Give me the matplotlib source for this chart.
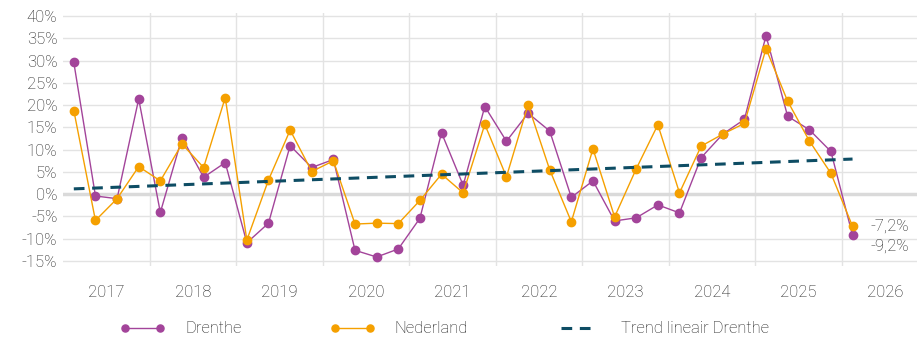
#!/usr/bin/env python3
""" quarterly change, Drenthe vs Nederland """

import numpy as np
import matplotlib
matplotlib.use("Agg")
import matplotlib.pyplot as plt
from matplotlib.ticker import FixedLocator, NullFormatter

plt.rcParams['font.family'] = ['Roboto', 'DejaVu Sans']

# quarters 2017Q1 .. 2026Q1
years = [2017] * 4 + [2018] * 4 + [2019] * 4 + [2020] * 4 + [2021] * 4 + \
        [2022] * 4 + [2023] * 4 + [2024] * 4 + [2025] * 4 + [2026]
quarters = [1, 2, 3, 4] * 9 + [1]

drenthe = [29.6, -0.4, -1.0, 21.4, -4.1, 12.7, 3.8, 7.1,
           -10.9, -6.5, 10.9, 6.0, 7.8, -12.6, -14.1, -12.3,
           -5.4, 13.8, 2.0, 19.7, 11.9, 18.2, 14.2, -0.7,
           3.0, -6.0, -5.3, -2.4, -4.2, 8.2, 13.5, 16.8,
           35.6, 17.5, 14.5, 9.6, -9.2]
nederland = [18.8, -5.9, -1.0, 6.2, 3.0, 11.3, 6.0, 21.7,
             -10.3, 3.2, 14.4, 5.1, 7.5, -6.7, -6.5, -6.6,
             -1.4, 4.5, 0.3, 15.7, 3.9, 20.1, 5.5, -6.2,
             10.2, -5.1, 5.7, 15.6, 0.3, 10.8, 13.5, 15.9,
             32.7, 20.9, 12.0, 4.7, -7.2]
trend_start, trend_end = 1.2, 7.9

y_ticks = list(range(-15, 45, 5))
year_labels = [str(y) for y in range(2017, 2027)]

purple = '#a3449a'
orange = '#f5a000'
teal = '#0e4d64'
text_col = '#1e1e1e'

x = np.array(years) + (np.array(quarters) - 0.5) / 4

fig = plt.figure(figsize=(9.17, 3.37), dpi=100)
ax = fig.add_axes([0.0687, 0.211, 0.9313, 0.751])

ax.plot(x, drenthe, color=purple, lw=1.0, marker='o', ms=6,
        label='Drenthe', zorder=3)
ax.plot(x, nederland, color=orange, lw=1.0, marker='o', ms=6,
        label='Nederland', zorder=4)
ax.plot([x[0], x[-1]], [trend_start, trend_end], color=teal, lw=2.2,
        ls=(0, (3.5, 2.5)), label='Trend lineair Drenthe', zorder=5)

ax.axhline(0, color='#dadada', lw=2.5, zorder=1)

ax.set_xlim(2017.0, 2026.87)
ax.set_ylim(-16.1, 40.75)

ax.set_yticks(y_ticks)
ax.set_yticklabels([f'{t}%' for t in y_ticks])
ax.xaxis.set_major_locator(FixedLocator(range(2018, 2027)))
ax.xaxis.set_major_formatter(NullFormatter())
ax.set_xticks([y + 0.5 for y in range(2017, 2027)], minor=True)
ax.set_xticklabels(year_labels, minor=True)

ax.grid(True, which='major', color='#e3e3e3', lw=1.0, zorder=0)
ax.set_axisbelow(True)
ax.tick_params(axis='both', which='both', length=0, labelsize=12,
               labelcolor=text_col)
ax.tick_params(axis='y', pad=4)
ax.tick_params(axis='x', which='minor', pad=14)
for lab in ax.get_yticklabels() + ax.get_xticklabels(minor=True):
    lab.set_fontweight('light')

for s in ax.spines.values():
    s.set_visible(False)

ax.annotate('-7,2%', (x[-1], nederland[-1]), xytext=(18, 0),
            textcoords='offset pixels', va='center', ha='left',
            fontsize=12, color=text_col, fontweight='light')
ax.annotate('-9,2%', (x[-1], drenthe[-1]), xytext=(18, -11),
            textcoords='offset pixels', va='center', ha='left',
            fontsize=12, color=text_col, fontweight='light')

leg = fig.legend(loc='center', bbox_to_anchor=(0.485, 0.024), ncol=3,
                 frameon=False, fontsize=12, numpoints=2, markerscale=0.85,
                 handlelength=2.7, handletextpad=1.2, columnspacing=5.3)
for t in leg.get_texts():
    t.set_color(text_col)
    t.set_fontweight('light')

plt.savefig('out.png', dpi=100)
